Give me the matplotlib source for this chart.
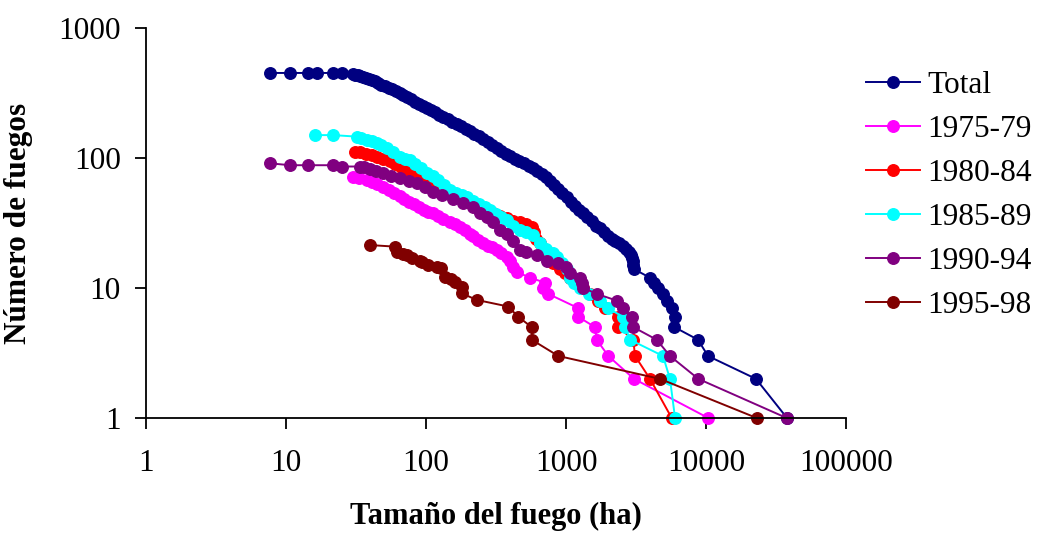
import matplotlib
matplotlib.use("Agg")
import matplotlib.pyplot as plt
from matplotlib.ticker import FixedLocator, FixedFormatter, NullLocator

plt.rcParams['font.family'] = ['Liberation Serif', 'DejaVu Serif']

# tamaño del fuego (ha) vs número de fuegos >= tamaño
total_x = [7.7, 10.7, 14.4, 16.6, 21.8, 25.0, 30, 31, 32.5, 34, 35.5, 37, 39, 41, 43, 45.5, 48, 51, 54, 57,
           61, 65, 69, 73, 78, 83, 89, 95, 101, 108, 116, 124, 133, 143, 154, 166, 178, 192, 207, 222,
           239, 257, 276, 297, 320, 345, 372, 400, 430, 465, 500, 540, 580, 625, 670, 720, 770, 825, 880, 940,
           1010, 1080, 1160, 1240, 1320, 1420, 1530, 1650, 1760, 1880, 2010, 2140, 2250, 2400, 2550, 2700, 2800, 2900, 2950, 3000,
           3020, 3050, 3980, 4250, 4540, 4900, 5260, 5720, 6050, 5950, 8770, 10330, 22750, 37900]
total_y = [451, 451, 451, 451, 451, 447, 440, 436, 432, 427, 420, 413, 405, 396, 388, 378, 367, 357, 348, 338,
           326, 314, 303, 294, 283, 272, 261, 252, 243, 234, 224, 215, 207, 198, 190, 184, 175, 168, 161, 154,
           147, 140, 133, 127, 120, 114, 108, 103, 99, 95, 91, 87, 84, 79, 75, 71, 67, 62, 58, 54,
           50, 46, 43, 40, 38, 35, 33, 30, 29, 27, 25, 24, 23, 22, 21, 20, 19, 18, 17, 16,
           15, 14, 12, 11, 10, 9, 8, 7, 6, 5, 4, 3, 2, 1]

p7579_x = [30.2, 33, 37.7, 41, 44.5, 49.5, 54, 59, 65, 70, 76, 82, 89, 96, 104, 113, 122, 133, 148, 162,
           175, 190, 205, 218, 235, 255, 275, 295, 320, 345, 377, 400, 420, 444, 553, 708, 689, 748, 1224, 1224,
           1611, 1657, 2005, 3060, 10380]
p7579_y = [72, 70, 68, 65, 63, 60, 57, 54, 51, 48, 46, 44, 42, 40, 38.5, 37.5, 35.5, 34, 32, 31,
           29.6, 28, 26, 25, 23.5, 22, 21, 20.5, 19.5, 18.5, 17.4, 16, 14.5, 13.3, 12, 11, 10, 9, 7, 6,
           5, 4, 3, 2, 1]

p8084_x = [31.1, 33.8, 37.3, 41, 44.5, 49, 55.3, 60, 66, 72.8, 80, 88, 96, 101, 110, 122, 135, 148, 165, 180,
           200, 220, 243, 270, 300, 335, 377, 420, 469, 520, 569, 590, 610, 650, 700, 750, 811, 900, 980, 1068,
           1200, 1320, 1484, 1700, 1900, 2364, 2364, 3026, 3112, 3981, 5690]
p8084_y = [112, 111, 108, 105, 102, 98, 94, 90, 85, 81, 76, 72, 68, 66, 62, 59, 56, 54, 50, 48,
           46, 44, 42.7, 40, 38, 36, 34.5, 33, 32, 31, 29.5, 27, 24, 22, 20, 18, 15.5, 14, 13, 12,
           11, 10, 9, 8, 7, 6, 5, 4, 3, 2, 1]

p8589_x = [16.1, 21.8, 32, 34.5, 37.7, 41, 44.5, 48, 52.4, 58, 65.2, 71, 77, 84, 92, 101, 112, 122, 135, 148,
           165, 182, 195, 215, 240, 262, 287, 315, 345, 377, 420, 469, 520, 581, 652, 720, 807, 859, 930, 1011,
           1068, 1150, 1259, 1450, 1749, 1995, 2553, 2650, 2865, 4930, 5530, 6010]
p8589_y = [150, 150, 146, 142, 137, 134, 130, 125, 119, 111, 102, 99, 96, 90, 84, 77, 73, 68, 62, 57,
           54, 52, 50, 47, 44, 42, 40, 37, 35, 33.4, 30, 28, 27, 25.6, 22, 20, 18.6, 17.4, 15.5, 14,
           12, 11, 10, 9, 8, 7, 6, 5, 4, 3, 2, 1]

p9094_x = [7.69, 10.7, 14.4, 21.8, 25, 33.8, 36, 39.8, 44, 49.5, 56, 65.2, 75, 85.9, 98, 113, 130, 157, 185, 218,
           245, 271, 300, 338, 380, 420, 469, 520, 618, 728, 881, 1000, 1068, 1259, 1300, 1330, 1665, 2301, 2566, 2945,
           3026, 4446, 5530, 8810, 37700]
p9094_y = [91, 88, 88, 88, 86, 86, 85, 83, 80, 76, 73, 70, 67, 64, 60, 55, 52, 48.4, 45, 42.2,
           38, 35.3, 32, 28, 26, 23, 19.6, 19, 17.9, 16.1, 15.5, 14.5, 13, 12, 11, 10, 9, 8, 7, 6,
           5, 4, 3, 2, 1]

p9598_x = [39.8, 60.1, 61.8, 68, 72.8, 79.1, 90, 93.2, 104, 120, 129, 137, 150, 161, 180, 180, 230, 387, 456, 569,
           569, 881, 4693, 23030]
p9598_y = [21.4, 20.8, 19, 18.2, 17.9, 16.9, 16.2, 15.9, 15, 14.5, 14.2, 12.2, 11.8, 11.2, 10.2, 9.1, 8.1, 7.2, 6, 5,
           4, 3, 2, 1]

series = [
    ("Total", total_x, total_y, "#000080"),
    ("1975-79", p7579_x, p7579_y, "#FF00FF"),
    ("1980-84", p8084_x, p8084_y, "#FF0000"),
    ("1985-89", p8589_x, p8589_y, "#00FFFF"),
    ("1990-94", p9094_x, p9094_y, "#800080"),
    ("1995-98", p9598_x, p9598_y, "#800000"),
]

fig = plt.figure(figsize=(10.37, 5.34), dpi=100)
ax = fig.add_axes([146/1037, 1-418/534, 700/1037, 390/534])

for name, xs, ys, col in series:
    ax.plot(xs, ys, color=col, marker='o', markersize=8.3, linewidth=1.4,
            label=name, clip_on=False)

ax.set_xscale('log')
ax.set_yscale('log')
ax.set_xlim(1, 100000)
ax.set_ylim(1, 1000)

xt = [1, 10, 100, 1000, 10000, 100000]
yt = [1, 10, 100, 1000]
ax.xaxis.set_major_locator(FixedLocator(xt))
ax.xaxis.set_major_formatter(FixedFormatter([str(v) for v in xt]))
ax.xaxis.set_minor_locator(NullLocator())
ax.yaxis.set_major_locator(FixedLocator(yt))
ax.yaxis.set_major_formatter(FixedFormatter([str(v) for v in yt]))
ax.yaxis.set_minor_locator(NullLocator())

ax.spines['top'].set_visible(False)
ax.spines['right'].set_visible(False)
for s in ['left', 'bottom']:
    ax.spines[s].set_linewidth(1.3)
ax.tick_params(axis='both', direction='out', length=8, width=1.3, labelsize=22.5)
ax.tick_params(axis='x', pad=14)
ax.tick_params(axis='y', pad=10)

ax.set_xlabel("Tamaño del fuego (ha)", fontsize=22, fontweight='bold')
ax.set_ylabel("Número de fuegos", fontsize=22.5, fontweight='bold')
ax.xaxis.set_label_coords(0.5, -0.216)
ax.yaxis.set_label_coords(-0.161, 0.5)

leg = ax.legend(loc='upper left', bbox_to_anchor=(1.011, 0.922), frameon=False,
                fontsize=22.6, handlelength=1.7, handletextpad=0.25, labelspacing=0.48,
                borderaxespad=0)

fig.savefig("out.png", dpi=100)
